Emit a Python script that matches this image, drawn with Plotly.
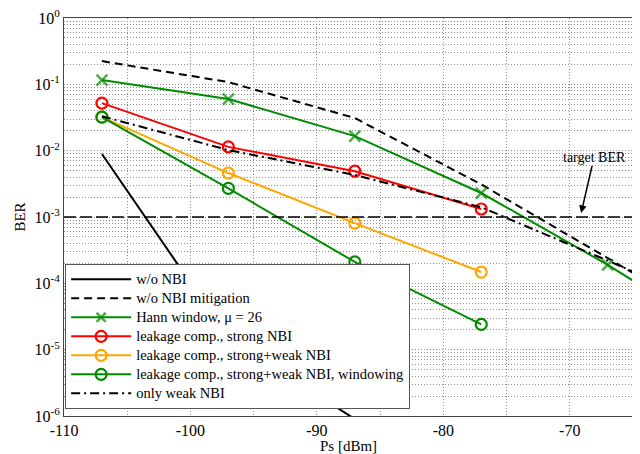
import plotly.graph_objects as go
import numpy as np

# ---- data ----
ps_no_nbi = [-107, -97, -87]
ber_no_nbi = [8.9e-3, 1.5e-5, 9.0e-7]

ps_no_mit = [-107, -97, -87, -77, -67, -65]
ber_no_mit = [0.224, 0.108, 0.031, 3.1e-3, 2.4e-4, 1.44e-4]

ps_hann = [-107, -97, -87, -77, -67, -65]
ber_hann = [0.116, 0.060, 0.0166, 2.3e-3, 1.9e-4, 1.1e-4]

ps_strong = [-107, -97, -87, -77]
ber_strong = [0.052, 0.0114, 4.9e-3, 1.32e-3]

ps_sw = [-107, -97, -87, -77]
ber_sw = [0.032, 4.6e-3, 8.1e-4, 1.48e-4]

ps_sww = [-107, -97, -87, -77]
ber_sww = [0.032, 2.7e-3, 2.1e-4, 2.4e-5]

ps_weak = [-107, -97, -87, -77, -67, -65]
ber_weak = [0.033, 0.0102, 4.3e-3, 1.4e-3, 2.2e-4, 1.5e-4]

series_names = [
    "w/o NBI",
    "w/o NBI mitigation",
    "Hann window, \u03bc = 26",
    "leakage comp., strong NBI",
    "leakage comp., strong+weak NBI",
    "leakage comp., strong+weak NBI, windowing",
    "only weak NBI",
]

target_ber = 1e-3
x_range = [-110, -65]
x_ticks = [-110, -105, -100, -95, -90, -85, -80, -75, -70, -65]
x_ticklabels = ["-110", "", "-100", "", "-90", "", "-80", "", "-70", ""]
decades = [0, -1, -2, -3, -4, -5, -6]

GREEN = "#008c00"
RED = "#ff0000"
ORANGE = "#ffa500"
FONT = "Liberation Serif"


def lab(s):
    return f'<span style="font-size:14.5px">{s}</span>'


fig = go.Figure()

fig.add_trace(go.Scatter(x=ps_no_nbi, y=ber_no_nbi, mode="lines", name=lab(series_names[0]),
                         line=dict(color="black", width=2)))
fig.add_trace(go.Scatter(x=ps_no_mit, y=ber_no_mit, mode="lines", name=lab(series_names[1]),
                         line=dict(color="black", width=2, dash="8px,5px")))
fig.add_trace(go.Scatter(x=ps_hann, y=ber_hann, mode="lines+markers", name=lab(series_names[2]),
                         line=dict(color=GREEN, width=2),
                         marker=dict(symbol="x-thin", size=[11, 11, 11, 11, 11, 0],
                                     line=dict(color=GREEN, width=2.5), color=GREEN)))
fig.add_trace(go.Scatter(x=ps_strong, y=ber_strong, mode="lines+markers", name=lab(series_names[3]),
                         line=dict(color=RED, width=2),
                         marker=dict(symbol="circle-open", size=11, line=dict(width=2.2), color=RED)))
fig.add_trace(go.Scatter(x=ps_sw, y=ber_sw, mode="lines+markers", name=lab(series_names[4]),
                         line=dict(color=ORANGE, width=2),
                         marker=dict(symbol="circle-open", size=11, line=dict(width=2.2), color=ORANGE)))
fig.add_trace(go.Scatter(x=ps_sww, y=ber_sww, mode="lines+markers", name=lab(series_names[5]),
                         line=dict(color=GREEN, width=2),
                         marker=dict(symbol="circle-open", size=11, line=dict(width=2.2), color=GREEN)))
fig.add_trace(go.Scatter(x=ps_weak, y=ber_weak, mode="lines", name=lab(series_names[6]),
                         line=dict(color="black", width=2, dash="9px,4px,2px,4px")))

# target BER line
fig.add_shape(type="line", xref="paper", x0=0, x1=1, yref="y", y0=target_ber, y1=target_ber,
              line=dict(color="black", width=1.5, dash="12px,4px"))

fig.add_annotation(x=-69.1, y=np.log10(target_ber) + 0.06, xref="x", yref="y",
                   text="target BER", showarrow=True, ax=13, ay=-56,
                   arrowhead=2, arrowsize=1, arrowwidth=1.5, arrowcolor="black",
                   font=dict(family=FONT, size=14, color="black"))

y_tickvals = []
y_ticktext = []
for d in decades:
    for m in range(1, 10):
        if d == 0 and m > 1:
            continue
        y_tickvals.append(m * 10.0 ** d)
        y_ticktext.append(f"10<sup>{d}</sup>" if m == 1 else "")

grid = dict(showgrid=True, gridcolor="#909090", gridwidth=1, griddash="1px,2px")

fig.update_xaxes(range=x_range, tickvals=x_ticks, ticktext=x_ticklabels, ticks="",
                 showline=True, linecolor="#444444", linewidth=1, mirror=True, automargin=False,
                 zeroline=False, title=dict(text="Ps [dBm]", font=dict(family=FONT, size=15), standoff=1),
                 tickfont=dict(family=FONT, size=16, color="black"), ticklabeloverflow="allow", **grid)
fig.update_yaxes(type="log", range=[-6, 0], tickvals=y_tickvals, ticktext=y_ticktext, ticks="",
                 showline=True, linecolor="#444444", linewidth=1, mirror=True, automargin=False,
                 title=dict(text="BER", font=dict(family=FONT, size=15), standoff=5),
                 tickfont=dict(family=FONT, size=16, color="black"), ticklabeloverflow="allow", **grid)

# the page body adds an 8px offset, so the figure is sized to the remaining window
fig.update_layout(
    width=632, height=446,
    margin=dict(l=56, r=7, t=10, b=38),
    plot_bgcolor="white", paper_bgcolor="white",
    font=dict(family=FONT, color="black"),
    showlegend=True,
    legend=dict(x=0.002, y=0.018, xanchor="left", yanchor="bottom",
                bgcolor="white", bordercolor="#555555", borderwidth=1,
                font=dict(family=FONT, size=12, color="black"),
                tracegroupgap=0, itemwidth=60),
)

fig.write_html("out.html")
